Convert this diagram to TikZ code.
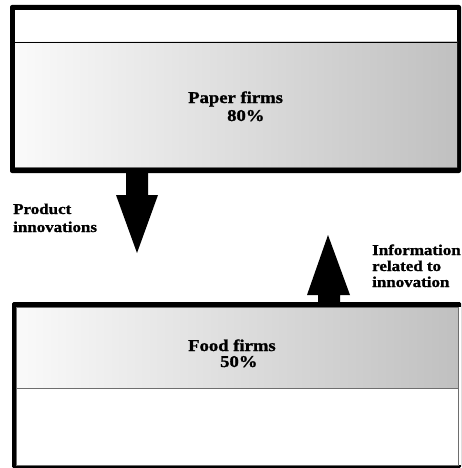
\documentclass[tikz,border=0pt]{standalone}
\usepackage{fontspec}
\newfontfamily\labfont{Liberation Serif}[FakeStretch=1.13,FakeBold=1.2]
\definecolor{glight}{RGB}{250,250,250}
\definecolor{gdark}{RGB}{192,192,192}
\definecolor{edge}{RGB}{110,110,110}
\tikzset{
  boxtext/.style={inner sep=0pt, font=\labfont\bfseries\fontsize{16.5}{18}\selectfont},
  labtext/.style={inner sep=0pt, font=\labfont\bfseries\fontsize{15}{16}\selectfont},
  frame/.style={fill=black},
  grad/.style={left color=glight, right color=gdark},
  thinedge/.style={draw=edge, line width=0.7pt},
  blockarrow/.style={fill=black}
}
\begin{document}
\begin{tikzpicture}[x=1pt,y=-1pt]
\useasboundingbox (0,0) rectangle (461,468);
% ---- top box (paper firms)
\fill[frame, rounded corners=2pt] (10,5) rectangle (461,173);
\fill[white] (15,10) rectangle (457,42);
\shade[grad] (15,42) rectangle (457,167);
\draw[line width=0.9pt] (15,42) -- (457,42);
\draw[thinedge] (15,167) -- (457,167);
\coordinate (paperbot) at (137,173);
% ---- bottom box (food firms)
\fill[frame, rounded corners=1.5pt] (12,302) rectangle (461,468);
\fill[white] (458,307) rectangle (461,465);
\fill[white] (16,307) rectangle (458,465);
\shade[grad] (16,307) rectangle (458,388);
\draw[thinedge] (16,388) -- (458,388);
\draw[thinedge] (16,307) rectangle (458,465);
\coordinate (foodtop) at (329,302);
% ---- block arrows
\coordinate (downtip) at (137,253);
\coordinate (uptip) at (328,235);
\fill[blockarrow] (paperbot) ++(-11,0) -- ++(22,0) -- ++(0,22) -- ++(10,0) -- (downtip) -- ++(-21,-58) -- ++(10,0) -- cycle;
\fill[blockarrow] (foodtop) ++(-11,0) -- ++(22,0) -- ++(0,-7) -- ++(10,0) -- (uptip) -- ++(-21,60) -- ++(11,0) -- cycle;
% ---- texts
\node[boxtext, anchor=base west] (paper) at (188,103)
  {\vtop{\baselineskip=18pt\hbox{Paper firms}\hbox{\hspace{39pt}80\%}}};
\node[boxtext, anchor=base west] (food) at (188,351)
  {\vtop{\baselineskip=16pt\hbox{Food firms}\hbox{\hspace{32pt}50\%}}};
\node[labtext, anchor=base west] (prod) at (13,214)
  {\vtop{\baselineskip=18pt\hbox{Product}\hbox{innovations}}};
\node[labtext, anchor=base west] (info) at (372,255)
  {\vtop{\baselineskip=16pt\hbox{Information}\hbox{related to}\hbox{innovation}}};
\end{tikzpicture}
\end{document}
